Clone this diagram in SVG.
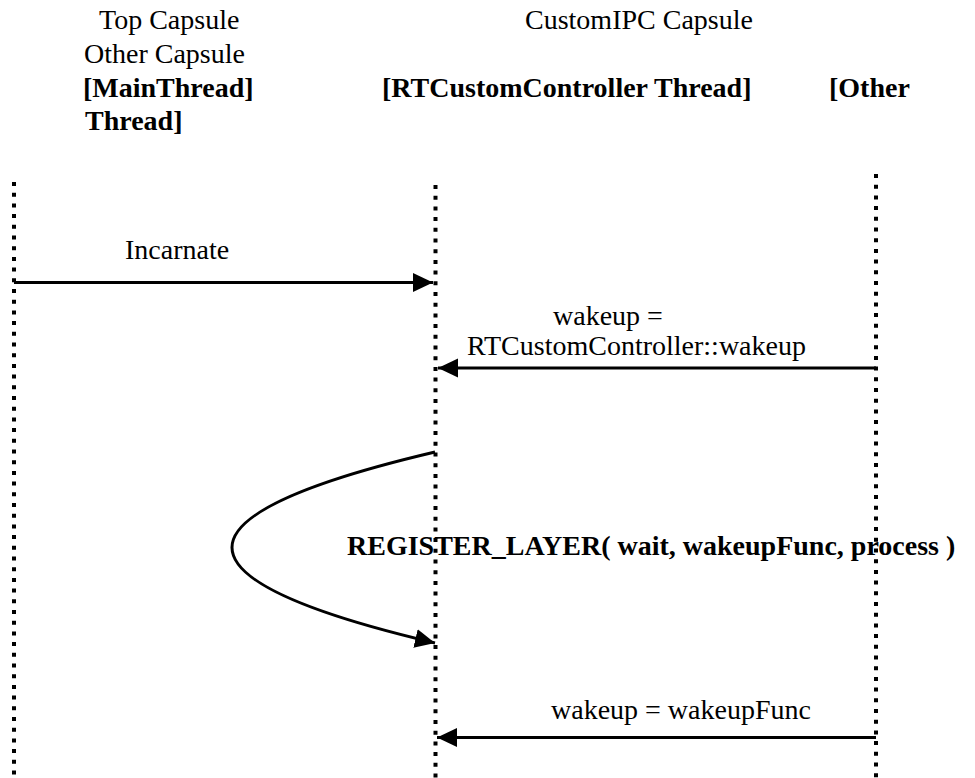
<svg xmlns="http://www.w3.org/2000/svg" width="975" height="778" viewBox="0 0 975 778">
  <style>
    text { font-family: "Liberation Serif", "Times New Roman", serif; font-size: 28px; fill: #000; }
    .b { font-weight: bold; }
    .life { stroke: #000; stroke-width: 4; stroke-dasharray: 4 6.7; fill: none; }
    .msg { stroke: #000; stroke-width: 3; fill: none; }
  </style>
  <defs>
    <marker id="ah" markerUnits="userSpaceOnUse" markerWidth="22" markerHeight="20" refX="20" refY="9.5" orient="auto">
      <path d="M0,0 L20,9.5 L0,19 z" fill="#000"/>
    </marker>
  </defs>
  <rect width="975" height="778" fill="#fff"/>

  <g id="main-thread">
    <text x="99" y="29">Top Capsule</text>
    <text x="83" y="97" class="b">[MainThread]</text>
    <line class="life" x1="14" y1="182" x2="14" y2="778"/>
  </g>

  <g id="rtcustomcontroller-thread">
    <text x="525" y="29">CustomIPC Capsule</text>
    <text x="382" y="97" class="b">[RTCustomController Thread]</text>
    <line class="life" x1="435.5" y1="185" x2="435.5" y2="778"/>
  </g>

  <g id="other-thread">
    <text x="84" y="63">Other Capsule</text>
    <text x="829" y="97" class="b">[Other</text>
    <text x="85" y="130" class="b">Thread]</text>
    <line class="life" x1="876" y1="174" x2="876" y2="778"/>
  </g>

  <g id="connectors">
    <line class="msg" x1="14" y1="282.5" x2="433" y2="282.5" marker-end="url(#ah)"/>
    <text x="125" y="259">Incarnate</text>

    <line class="msg" x1="876" y1="368" x2="438" y2="368" marker-end="url(#ah)"/>
    <text x="553" y="325">wakeup =</text>
    <text x="467" y="355">RTCustomController::wakeup</text>

    <path class="msg" d="M435,452 Q29,547.5 435,643" marker-end="url(#ah)"/>
    <text x="347" y="555" class="b">REGISTER_LAYER( wait, wakeupFunc, process )</text>

    <line class="msg" x1="876" y1="737.5" x2="437" y2="737.5" marker-end="url(#ah)"/>
    <text x="551" y="719">wakeup = wakeupFunc</text>
  </g>
</svg>
